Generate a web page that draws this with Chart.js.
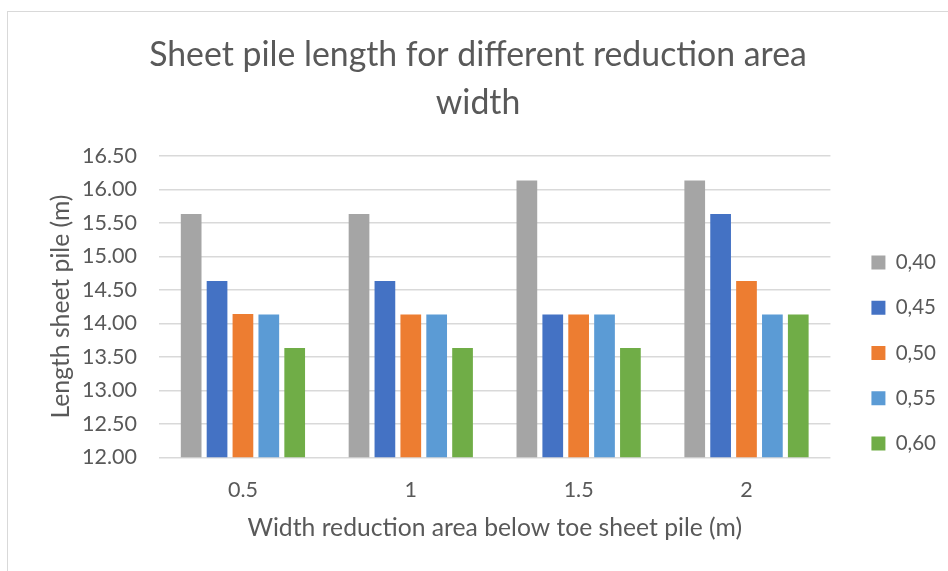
<!DOCTYPE html>
<html>
<head>
<meta charset="utf-8">
<script src="https://cdn.jsdelivr.net/npm/chart.js@4.4.1/dist/chart.umd.min.js"></script>
<style>
  html, body { margin: 0; padding: 0; background: #ffffff; overflow: hidden; }
  #wrap { position: relative; width: 948px; height: 571px; }
  #frame { position: absolute; left: 7px; top: 11px; width: 1000px; height: 1000px;
           border: 1.5px solid #d9d9d9; box-sizing: border-box; }
  canvas { position: absolute; left: 0; top: 0; }
</style>
</head>
<body>
<div id="wrap">
  <div id="frame"></div>
  <canvas id="c" width="948" height="571"></canvas>
</div>
<script>
// ---- data ----
const categories = ['0.5', '1', '1.5', '2'];
const seriesNames = ['0,40', '0,45', '0,50', '0,55', '0,60'];
const s040 = [15.63, 15.63, 16.13, 16.13];
const s045 = [14.63, 14.63, 14.13, 15.63];
const s050 = [14.14, 14.13, 14.13, 14.63];
const s055 = [14.13, 14.13, 14.13, 14.13];
const s060 = [13.63, 13.63, 13.63, 14.13];
const yTicksMin = 12.0;
const yTicksMax = 16.5;
const yTickStep = 0.5;
const titleLines = ['Sheet pile length for different reduction area', 'width'];
const xTitle = 'Width reduction area below toe sheet pile (m)';
const yTitle = 'Length sheet pile (m)';

// ---- styles ----
const colors = ['#A5A5A5', '#4472C4', '#ED7D31', '#5B9BD5', '#70AD47'];
const textColor = '#595959';
const gridColor = '#D9D9D9';
const FONT = 'Lato, "Open Sans", "Liberation Sans", sans-serif';

const seriesValues = [s040, s045, s050, s055, s060];
const datasets = seriesValues.map((vals, i) => ({
  label: seriesNames[i],
  data: vals,
  backgroundColor: colors[i],
  borderWidth: 0,
  categoryPercentage: 0.771,
  barPercentage: 0.80
}));

new Chart(document.getElementById('c'), {
  type: 'bar',
  data: { labels: categories, datasets },
  options: {
    responsive: false,
    animation: false,
    events: [],
    layout: { padding: { left: 10, right: 2, top: 0, bottom: 0 } },
    plugins: {
      title: {
        display: true,
        text: titleLines,
        color: textColor,
        font: { family: FONT, size: 33.8, weight: '400', lineHeight: 1.43 },
        padding: { top: 30.5, bottom: 28.6 }
      },
      legend: {
        display: true,
        position: 'right',
        align: 'start',
        fullSize: true,
        title: { display: true, text: ' ', font: { size: 10, lineHeight: 1 }, padding: { top: 217.45, bottom: 0 } },
        labels: {
          boxWidth: 14,
          boxHeight: 14,
          padding: 24.75,
          color: textColor,
          font: { family: FONT, size: 20.5 }
        }
      },
      tooltip: { enabled: false }
    },
    scales: {
      x: {
        type: 'category',
        grid: { display: false, drawTicks: false },
        border: { display: false },
        ticks: {
          color: textColor,
          font: { family: FONT, size: 21.5 },
          padding: 19.5,
          maxRotation: 0
        },
        title: {
          display: true,
          text: xTitle,
          color: textColor,
          font: { family: FONT, size: 24.7 },
          padding: { top: 0, bottom: 28.3 }
        },
        afterFit: (s) => { s.height = 113.67; }
      },
      y: {
        type: 'linear',
        min: yTicksMin,
        max: yTicksMax,
        grid: { color: gridColor, lineWidth: 1.5, drawTicks: false },
        border: { display: false },
        ticks: {
          stepSize: yTickStep,
          color: textColor,
          font: { family: FONT, size: 21.5 },
          padding: 22,
          callback: (v) => Number(v).toFixed(2)
        },
        title: {
          display: true,
          text: yTitle,
          color: textColor,
          font: { family: FONT, size: 24.7 },
          padding: { top: 36.3, bottom: 0 }
        },
        afterFit: (s) => { s.width = 149; }
      },
      spacer: {
        type: 'linear',
        axis: 'y',
        position: 'right',
        display: true,
        grid: { display: false, drawTicks: false },
        border: { display: false },
        ticks: { display: false },
        afterFit: (s) => { s.width = 16.25; }
      }
    }
  }
});
</script>
</body>
</html>
